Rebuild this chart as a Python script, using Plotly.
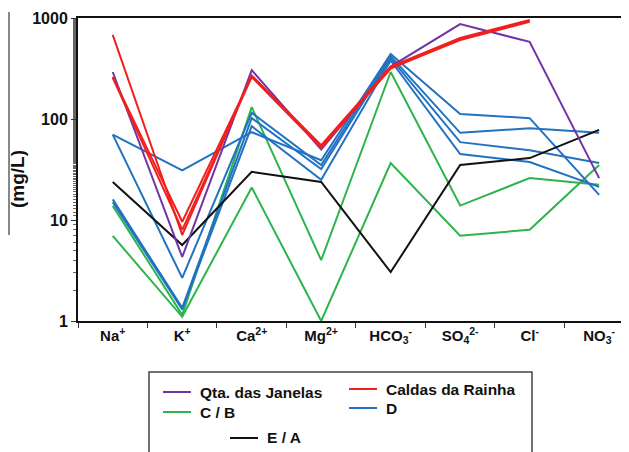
import plotly.graph_objects as go

# ---------------- data ----------------
ions = ["Na<sup>+</sup>", "K<sup>+</sup>", "Ca<sup>2+</sup>", "Mg<sup>2+</sup>",
        "HCO<sub>3</sub><sup>-</sup>", "SO<sub>4</sub><sup>2-</sup>", "Cl<sup>-</sup>",
        "NO<sub>3</sub><sup>-</sup>"]

qta_janelas = [[292, 4.3, 305, 50, 330, 870, 580, 26]]

caldas_rainha = [
    [680, 7.1, 270, 55, 330, 633, 955, None],
    [261, 9.6, 265, 53, 320, 605, 915, None],
    [255, 8.0, 260, 52, 315, 618, 935, None],
]

c_b = [
    [13.8, 1.15, 131, 4.0, 292, 13.9, 26, 22.3],
    [6.95, 1.10, 21, 1.0, 36.6, 7.0, 8.0, 35],
]

d_group = [
    [70, 31, 74, 39, 440, 112, 102, 17.7],
    [70, 2.67, 115, 35, 420, 73, 81, 73],
    [16, 1.35, 102, 32, 400, 59, 49, 36.7],
    [15, 1.30, 85, 25, 380, 45, 37.5, 21.3],
]

e_a = [[23.8, 5.65, 30, 23.8, 3.05, 35, 41, 78]]

y_tick_vals = [1, 10, 100, 1000]
y_tick_text = ["1", "10", "100", "1000"]

groups = [
    ("Qta. das Janelas", qta_janelas, "#7233A6"),
    ("Caldas da Rainha", caldas_rainha, "#F0201E"),
    ("C / B", c_b, "#2DB44A"),
    ("D", d_group, "#2272C3"),
    ("E / A", e_a, "#111111"),
]

# ---------------- figure ----------------
# the page body adds an 8px margin, so the figure is made 8px smaller
OFF = 8
W, H = 629 - OFF, 452 - OFF
ML, MR, MT = 78 - OFF, 0, 18 - OFF
PW = W - ML - MR
PH = 303
MB = H - MT - PH

FONT = "Liberation Sans, Arial, sans-serif"

fig = go.Figure()
draw_order = [2, 3, 4, 0, 1]
for gi in draw_order:
    name, series, color = groups[gi]
    for s in series:
        fig.add_trace(go.Scatter(
            x=ions, y=s, mode="lines", name=name,
            line=dict(color=color, width=2),
            showlegend=False, connectgaps=False,
        ))


def px(xp):  # page pixel -> paper x
    return (xp - OFF - ML) / PW


def py(yp):  # page pixel -> paper y
    return (MT + PH - (yp - OFF)) / PH


shapes = []
annotations = []

# y title and the side rule
annotations.append(dict(
    x=px(17), y=py(179), xref="paper", yref="paper", text="<b>(mg/L)</b>",
    textangle=-90, showarrow=False, xanchor="center", yanchor="middle",
    font=dict(family=FONT, size=19, color="#111111")))
shapes.append(dict(type="line", xref="paper", yref="paper",
                   x0=px(9), x1=px(9), y0=py(235), y1=py(12),
                   line=dict(color="#111111", width=1)))

# legend box
shapes.append(dict(type="rect", xref="paper", yref="paper",
                   x0=px(149), x1=px(532), y0=py(470), y1=py(372),
                   line=dict(color="#444444", width=1.5), fillcolor="rgba(0,0,0,0)"))

legend_items = [
    ("Qta. das Janelas", "#7233A6", 163, 392),
    ("Caldas da Rainha", "#F0201E", 349, 389),
    ("C / B", "#2DB44A", 163, 412),
    ("D", "#2272C3", 349, 408),
    ("E / A", "#111111", 230, 438),
]
for label, color, lx, ly in legend_items:
    shapes.append(dict(type="line", xref="paper", yref="paper",
                       x0=px(lx), x1=px(lx + 28), y0=py(ly), y1=py(ly),
                       line=dict(color=color, width=2)))
    annotations.append(dict(
        x=px(lx + 35), y=py(ly), xref="paper", yref="paper",
        text="<b>" + label + "</b>", showarrow=False,
        xanchor="left", yanchor="middle",
        font=dict(family=FONT, size=15.5, color="#111111")))

fig.update_layout(
    width=W, height=H,
    margin=dict(l=ML, r=MR, t=MT, b=MB, pad=0, autoexpand=False),
    paper_bgcolor="white", plot_bgcolor="white",
    shapes=shapes, annotations=annotations,
    showlegend=False,
    xaxis=dict(
        type="category", categoryorder="array", categoryarray=ions,
        range=[-0.5, 7.43], tickson="boundaries",
        showline=True, linecolor="#111111", linewidth=2, mirror=True,
        ticks="outside", ticklen=5, tickcolor="#333333", tickwidth=1,
        showgrid=False, zeroline=False, automargin=False,
        tickfont=dict(family=FONT, size=15, color="#111111", weight="bold"),
    ),
    yaxis=dict(
        type="log", range=[0, 3],
        tickvals=y_tick_vals, ticktext=y_tick_text,
        showline=True, linecolor="#111111", linewidth=2,
        ticks="outside", ticklen=5, tickcolor="#333333", tickwidth=1,
        minor=dict(ticks="outside", ticklen=3, tickcolor="#666666", showgrid=False),
        showgrid=False, zeroline=False, automargin=False,
        tickfont=dict(family=FONT, size=16, color="#111111", weight="bold"),
    ),
)

fig.write_html("out.html")
